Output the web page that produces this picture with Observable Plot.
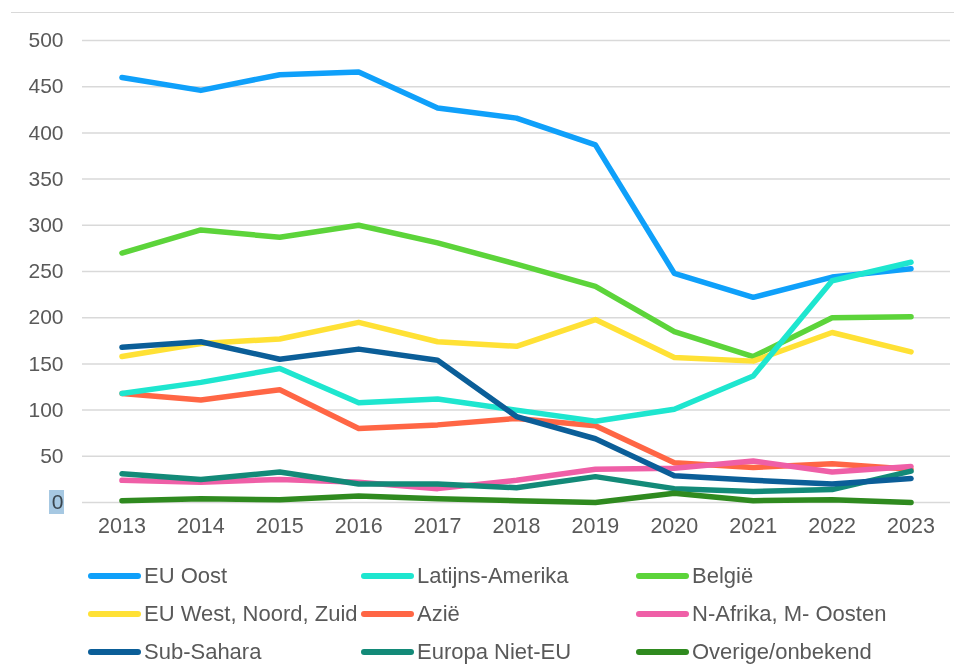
<!DOCTYPE html>
<html>
<head>
<meta charset="utf-8">
<script src="https://cdn.jsdelivr.net/npm/d3@7"></script>
<script src="https://cdn.jsdelivr.net/npm/@observablehq/plot@0.6"></script>
<style>
  html, body { margin: 0; padding: 0; background: #fff; }
  body { width: 954px; height: 664px; position: relative; overflow: hidden;
         font-family: "Liberation Sans", Arial, sans-serif; }
  #topline { position: absolute; left: 11px; right: 0; top: 12px; height: 0;
             border-top: 1.5px solid #d9d9d9; }
  #chart { position: absolute; left: 0; top: 0; }
  #hl { position: absolute; left: 49px; top: 490px; width: 15px; height: 24px;
        background: #a6c8e2; mix-blend-mode: multiply; }
  .leg { position: absolute; display: flex; align-items: center; height: 30px;
         font-size: 22px; color: #595959; white-space: nowrap; }
  .leg .sw { width: 53px; height: 6px; border-radius: 3px; margin-right: 3px; }
</style>
</head>
<body>
<div id="topline"></div>
<div id="chart"></div>
<div id="hl"></div>
<div id="legend"></div>
<script>
const years = [2013, 2014, 2015, 2016, 2017, 2018, 2019, 2020, 2021, 2022, 2023];
const seriesNames = ["EU Oost", "Latijns-Amerika", "België", "EU West, Noord, Zuid", "Azië",
  "N-Afrika, M- Oosten", "Sub-Sahara", "Europa Niet-EU", "Overige/onbekend"];
const seriesColors = ["#0fa0fa", "#1ee6cf", "#5cd43a", "#ffe135", "#ff6645",
  "#ef5fa7", "#0b5e98", "#138a78", "#2f8a1f"];
const euOost        = [460, 446, 463, 466, 427, 416, 387, 248, 222, 244, 253];
const latijnsAm     = [118, 130, 145, 108, 112, 100, 88, 101, 137, 240, 260];
const belgie        = [270, 295, 287, 300, 281, 258, 234, 185, 158, 200, 201];
const euWest        = [158, 172, 177, 195, 174, 169, 198, 157, 153, 184, 163];
const azie          = [118, 111, 122, 80, 84, 91, 83, 43, 38, 42, 36];
const nAfrika       = [24, 22, 25, 22, 15, 24, 36, 37, 45, 33, 39];
const subSahara     = [168, 174, 155, 166, 154, 93, 69, 29, 24, 20, 26];
const europaNietEU  = [31, 25, 33, 20, 20, 16, 28, 15, 12, 14, 34];
const overige       = [2, 4, 3, 7, 4, 2, 0, 10, 2, 3, 0];
const yTicks = [0, 50, 100, 150, 200, 250, 300, 350, 400, 450, 500];

const seriesValues = [euOost, latijnsAm, belgie, euWest, azie, nAfrika, subSahara, europaNietEU, overige];
const data = [];
seriesNames.forEach((name, i) => {
  years.forEach((yr, j) => data.push({series: name, year: yr, value: seriesValues[i][j]}));
});
const drawOrder = ["EU Oost", "België", "EU West, Noord, Zuid", "Azië", "N-Afrika, M- Oosten",
  "Europa Niet-EU", "Overige/onbekend", "Latijns-Amerika", "Sub-Sahara"];

const plot = Plot.plot({
  width: 954,
  height: 550,
  marginLeft: 82,
  marginRight: 4,
  marginTop: 40,
  marginBottom: 48,
  style: {background: "transparent", fontFamily: "'Liberation Sans', Arial, sans-serif", fontSize: "21px", color: "#595959"},
  x: {type: "linear", domain: [2012.5, 2023.5], ticks: years, tickFormat: d => String(d), tickSize: 0, tickPadding: 15, label: null},
  y: {domain: [0, 500], ticks: yTicks, tickSize: 0, tickPadding: 19, label: null},
  color: {domain: seriesNames, range: seriesColors},
  marks: [
    Plot.ruleY(yTicks, {stroke: "#d9d9d9", strokeWidth: 1.5}),
    ...drawOrder.map(name => Plot.line(data.filter(d => d.series === name), {
      x: "year", y: "value", stroke: "series", strokeWidth: 5.5,
      strokeLinecap: "round", strokeLinejoin: "round"
    })),
    Plot.axisX({ticks: years, tickFormat: d => String(d), tickSize: 0, tickPadding: 15, fill: "#595959", fontSize: 21.5}),
    Plot.axisY({ticks: yTicks, tickSize: 0, tickPadding: 19, fill: "#595959", fontSize: 21})
  ]
});
document.getElementById("chart").appendChild(plot);

const legend = document.getElementById("legend");
const colX = [88, 361, 636];
const rowY = [576, 614, 652];
seriesNames.forEach((name, i) => {
  const el = document.createElement("div");
  el.className = "leg";
  el.style.left = colX[i % 3] + "px";
  el.style.top = (rowY[Math.floor(i / 3)] - 15) + "px";
  const sw = document.createElement("div");
  sw.className = "sw";
  sw.style.background = seriesColors[i];
  const tx = document.createElement("span");
  tx.textContent = name;
  el.appendChild(sw);
  el.appendChild(tx);
  legend.appendChild(el);
});
</script>
</body>
</html>
